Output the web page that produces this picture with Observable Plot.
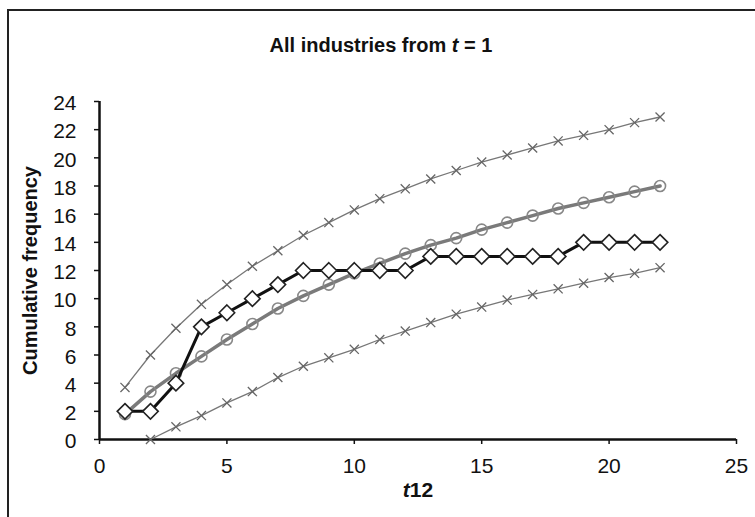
<!DOCTYPE html>
<html>
<head>
<meta charset="utf-8">
<script src="https://cdn.jsdelivr.net/npm/d3@7"></script>
<script src="https://cdn.jsdelivr.net/npm/@observablehq/plot@0.6"></script>
<style>
  html, body { margin: 0; padding: 0; background: #fff; }
  #wrap { position: relative; width: 755px; height: 517px; overflow: hidden; background: #fff; }
  #border { position: absolute; left: 7px; top: 9px; width: 800px; height: 600px; border: 2px solid #222; box-sizing: border-box; }
  #title { position: absolute; left: 0; top: 35px; width: 762px; text-align: center; font-family: "Liberation Sans Narrow", "Arial Narrow", "Liberation Sans", sans-serif; font-weight: bold; font-size: 20px; line-height: 20px; color: #111; }
  #chart { position: absolute; left: 0; top: 0; }
  #chart svg { overflow: visible; }
</style>
</head>
<body>
<div id="wrap">
  <div id="border"></div>
  <div id="chart"></div>
  <div id="title">All industries from <i>t</i> = 1</div>
</div>
<script>
const t = [1,2,3,4,5,6,7,8,9,10,11,12,13,14,15,16,17,18,19,20,21,22];
const upper = [3.7,6.0,7.9,9.6,11.0,12.3,13.4,14.5,15.4,16.3,17.1,17.8,18.5,19.1,19.7,20.2,20.7,21.2,21.6,22.0,22.5,22.9];
const lowerT = [2,3,4,5,6,7,8,9,10,11,12,13,14,15,16,17,18,19,20,21,22];
const lower = [0,0.9,1.7,2.6,3.4,4.4,5.2,5.8,6.4,7.1,7.7,8.3,8.9,9.4,9.9,10.3,10.7,11.1,11.5,11.8,12.2];
const expected = [1.8,3.4,4.7,5.9,7.1,8.2,9.3,10.2,11.0,11.8,12.5,13.2,13.8,14.3,14.9,15.4,15.9,16.4,16.8,17.2,17.6,18.0];
const observed = [2,2,4,8,9,10,11,12,12,12,12,12,13,13,13,13,13,13,14,14,14,14];
const xTicks = [0,5,10,15,20,25];
const yTicks = [0,2,4,6,8,10,12,14,16,18,20,22,24];

const up = t.map((d,i) => ({x: d, y: upper[i]}));
const lo = lowerT.map((d,i) => ({x: d, y: lower[i]}));
const ex = t.map((d,i) => ({x: d, y: expected[i]}));
const ob = t.map((d,i) => ({x: d, y: observed[i]}));

const narrow = "'Liberation Sans Narrow', 'Arial Narrow', 'Liberation Sans', sans-serif";

const plot = Plot.plot({
  width: 755,
  height: 517,
  marginLeft: 99,
  marginRight: 19,
  marginTop: 101,
  marginBottom: 78,
  style: { fontFamily: narrow, fontSize: "21px", color: "#111", background: "transparent" },
  x: { domain: [0, 25] },
  y: { domain: [0, 24] },
  marks: [
    Plot.axisY({ticks: yTicks, tickSize: 5, text: null, label: null, stroke: "#111", strokeWidth: 1.5}),
    Plot.axisY({ticks: yTicks, tickSize: 0, tickPadding: 23, label: null, dy: 2}),
    Plot.axisX({ticks: xTicks, tickSize: 5, tickPadding: 14, label: null, stroke: "#111", strokeWidth: 1.5}),
    Plot.ruleX([0], {stroke: "#111", strokeWidth: 2.5}),
    Plot.ruleY([0], {stroke: "#111", strokeWidth: 2.5}),
    Plot.line(up, {x: "x", y: "y", stroke: "#777", strokeWidth: 1.3}),
    Plot.dot(up, {x: "x", y: "y", symbol: "times", r: 4.2, stroke: "#666", strokeWidth: 1.3}),
    Plot.line(lo, {x: "x", y: "y", stroke: "#777", strokeWidth: 1.3}),
    Plot.dot(lo, {x: "x", y: "y", symbol: "times", r: 4.2, stroke: "#666", strokeWidth: 1.3}),
    Plot.line(ex, {x: "x", y: "y", stroke: "#7a7a7a", strokeWidth: 3.5}),
    Plot.dot(ex, {x: "x", y: "y", symbol: "circle", r: 5.5, stroke: "#888", strokeWidth: 1.6, fill: "none"}),
    Plot.line(ob, {x: "x", y: "y", stroke: "#111", strokeWidth: 3}),
    Plot.dot(ob, {x: "x", y: "y", symbol: "diamond2", r: 7, stroke: "#222", strokeWidth: 1.6, fill: "white"}),
    Plot.text(["Cumulative frequency"], {frameAnchor: "left", textAnchor: "middle", rotate: -90, dx: -69, fontFamily: "'Liberation Sans', Arial, sans-serif", fontWeight: "bold", fontSize: 20, fill: "#111"}),
    Plot.text(["t12"], {frameAnchor: "bottom", dy: 57, fontWeight: "bold", fontSize: 21, fill: "#111", className: "xlab"})
  ]
});
document.getElementById("chart").appendChild(plot);

// italic "t" in x label
const xl = plot.querySelector(".xlab text");
if (xl) {
  xl.textContent = "";
  const a = document.createElementNS("http://www.w3.org/2000/svg", "tspan");
  a.setAttribute("font-style", "italic");
  a.textContent = "t";
  const b = document.createElementNS("http://www.w3.org/2000/svg", "tspan");
  b.textContent = "12";
  xl.appendChild(a); xl.appendChild(b);
}
</script>
</body>
</html>
